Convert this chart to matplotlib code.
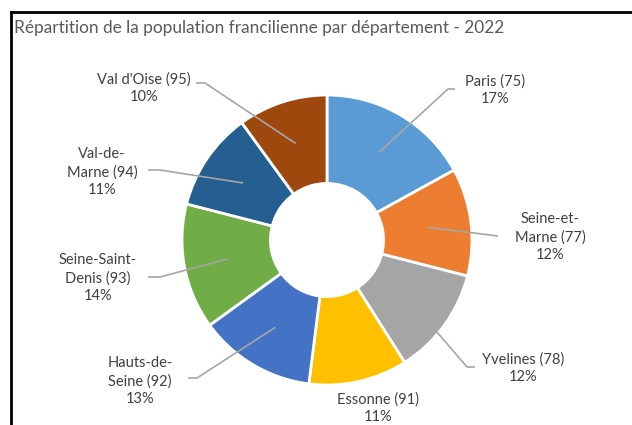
import numpy as np
import matplotlib
matplotlib.use("Agg")
import matplotlib.pyplot as plt
from matplotlib.lines import Line2D

# ---- data ----
departements = ["Paris (75)", "Seine-et-\nMarne (77)", "Yvelines (78)", "Essonne (91)",
                "Hauts-de-\nSeine (92)", "Seine-Saint-\nDenis (93)", "Val-de-\nMarne (94)",
                "Val d'Oise (95)"]
parts = [17, 12, 12, 11, 13, 14, 11, 10]
couleurs = ["#5B9BD5", "#ED7D31", "#A5A5A5", "#FFC000", "#4472C4", "#70AD47", "#255E91", "#9E480E"]
titre = "Répartition de la population francilienne par département - 2022"

# label block centres and leader elbows (pixel coordinates of the figure, y from top)
label_pos = [(495, 90), (550, 237), (523, 368), (378, 408), (140, 381), (98, 278), (102, 172), (144, 88)]
elbows = [[(448, 89), (455, 89)], [(498, 236)], [(467, 367), (475, 367)], None,
          [(197, 378), (188, 378)], [(160, 277), (148, 277)], [(160, 170), (148, 170)],
          [(205, 83), (196, 83)]]

W, H = 632, 425
CX, CY, R = 327, 240, 145

FONT = "Lato"
plt.rcParams['font.family'] = [FONT, 'DejaVu Sans']

fig = plt.figure(figsize=(W / 100, H / 100), dpi=100)
ax = fig.add_axes([0, 0, 1, 1])

def px(p):
    return ((p[0] - CX) / R, (CY - p[1]) / R)

wedges, _ = ax.pie(parts, colors=couleurs, startangle=90, counterclock=False,
                   radius=1.0, wedgeprops=dict(width=0.61, edgecolor='white', linewidth=2))
ax.set_aspect('auto')
ax.set_xlim(-CX / R, (W - CX) / R)
ax.set_ylim(-(H - CY) / R, CY / R)
ax.axis('off')

lab_col = "#404040"
for w, lab, pct, pos, el in zip(wedges, departements, parts, label_pos, elbows):
    tx, ty = px(pos)
    ax.text(tx, ty, f"{lab}\n{pct}%", ha='center', va='center', multialignment='center',
            fontsize=10.5, color=lab_col, linespacing=1.35)
    if el is not None:
        ang = np.deg2rad((w.theta1 + w.theta2) / 2)
        pts = [(0.70 * np.cos(ang), 0.70 * np.sin(ang))] + [px(e) for e in el]
        xs, ys = zip(*pts)
        ax.plot(xs, ys, color="#A6A6A6", lw=1.2, solid_capstyle='butt')

fig.text(14 / W, 1 - 28 / H, titre, ha='left', va='center', fontsize=12.4, color="#595959")

# frame borders (top and left)
fig.add_artist(Line2D([11 / W, 1], [1 - 12 / H, 1 - 12 / H], color='black', lw=2, transform=fig.transFigure))
fig.add_artist(Line2D([11 / W, 11 / W], [0, 1 - 12 / H], color='black', lw=2, transform=fig.transFigure))

fig.savefig("out.png", dpi=100)
